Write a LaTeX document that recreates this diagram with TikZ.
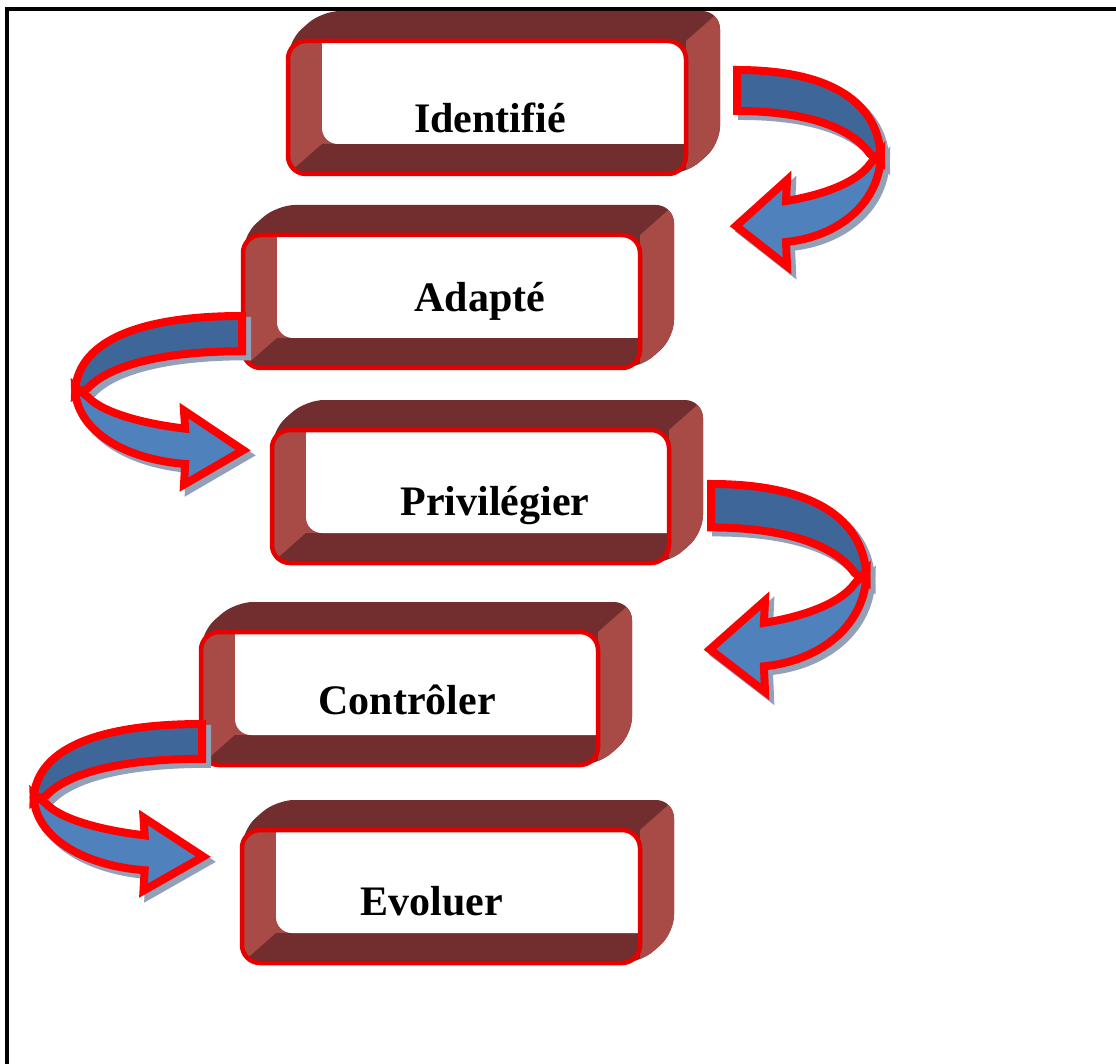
\documentclass[tikz,border=0pt]{standalone}
\usepackage{fontspec}
\setmainfont{Liberation Serif}
\definecolor{walldark}{RGB}{114,46,46}
\definecolor{walllight}{RGB}{168,74,70}
\definecolor{rimred}{RGB}{230,0,0}
\definecolor{arrred}{RGB}{255,0,0}
\definecolor{bluedark}{RGB}{63,102,153}
\definecolor{bluelight}{RGB}{79,129,189}
\definecolor{arrshadow}{RGB}{146,160,184}
\tikzset{
  lbl/.style={font=\fontsize{42}{50}\selectfont\bfseries, inner sep=0pt, anchor=base},
  rim/.style={draw=rimred, line width=4.5pt, rounded corners=18pt},
  ribbon/.style={draw=arrred, line width=8pt, line join=miter, miter limit=10},
  ribshadow/.style={fill=arrshadow, draw=arrshadow, line width=8pt, line join=miter},
}
% tube-like box: #1 left, #2 top, #3 right, #4 bottom (front rim)
\newcommand{\tubebox}[4]{%
  \begin{scope}
    \clip[rounded corners=18pt] (#1,#4) -- (#1,#2) -- (#1+34,#2-30) -- (#3+34,#2-30) -- (#3+34,#4-30) -- (#3,#4) -- cycle;
    \fill[walldark] (#1-5,#2-40) rectangle (#3+40,#4+5);
    \fill[walllight] (#3,#2) -- (#3+34,#2-30) -- (#3+50,#2-30) -- (#3+50,#4+5) -- (#3,#4+5) -- cycle;
  \end{scope}
  \begin{scope}
    \clip[rounded corners=18pt] (#1,#2) rectangle (#3,#4);
    \fill[walllight] (#1,#2) rectangle (#3,#4);
    \fill[walldark] (#1,#4) -- (#1+34,#4-30) -- (#3+5,#4-30) -- (#3+5,#4+5) -- (#1,#4+5) -- cycle;
    \fill[white, rounded corners=16pt] (#1+34,#2-30) rectangle (#3+34,#4-30);
  \end{scope}
  \path[rim] (#1,#2) rectangle (#3,#4);
}
\newcommand{\bandA}[1]{\path[#1] (0,0) .. controls (90,0) and (144,30) .. (144,92) -- (133,84) .. controls (115,58) and (70,41) .. (0,41) -- cycle;}
\newcommand{\bandB}[1]{\path[#1] (144,82) .. controls (144,134) and (100,167) .. (49,172) -- (50,196) -- (-1,156) -- (50,110) -- (49,131) .. controls (92,124) and (122,110) .. (133,94) -- cycle;}
% ribbon arrow: #1 coordinate name of tail corner, #2 xscale, #3 yscale
\newcommand{\ribbonarrow}[3]{%
  \begin{scope}[shift={(#1)}, shift={(5,5)}, xscale=#2, yscale=#3]
    \bandA{ribshadow}
    \bandB{ribshadow}
  \end{scope}
  \begin{scope}[shift={(#1)}, xscale=#2, yscale=#3]
    \bandA{ribbon, fill=bluedark}
    \bandB{ribbon, fill=bluelight}
  \end{scope}
}
\begin{document}
\begin{tikzpicture}[x=1pt, y=-1pt]
  \useasboundingbox (0,0) rectangle (1116,1064);
  \fill[white] (0,0) rectangle (1116,1064);
  \draw[line width=3.5pt] (7,1070) -- (7,9) -- (1120,9);

  \tubebox{288}{41}{686}{174}
  \tubebox{243}{235}{640}{368}
  \tubebox{272}{430}{669}{563}
  \tubebox{201}{632}{598}{765}
  \tubebox{242}{830}{640}{963}

  \node[lbl] (n1) at (490,133) {Identifié};
  \node[lbl] (n2) at (480,312) {Adapté};
  \node[lbl] (n3) at (495,515) {Privilégier};
  \node[lbl] (n4) at (407,714) {Contrôler};
  \node[lbl] (n5) at (432,915) {Evoluer};

  \coordinate (a1) at (737,70);
  \coordinate (a2) at (242,316);
  \coordinate (a3) at (711,484);
  \coordinate (a4) at (202,724);
  \ribbonarrow{a1}{1}{1}
  \ribbonarrow{a2}{-1.16}{0.86}
  \ribbonarrow{a3}{1.08}{1.06}
  \ribbonarrow{a4}{-1.17}{0.85}
\end{tikzpicture}
\end{document}
